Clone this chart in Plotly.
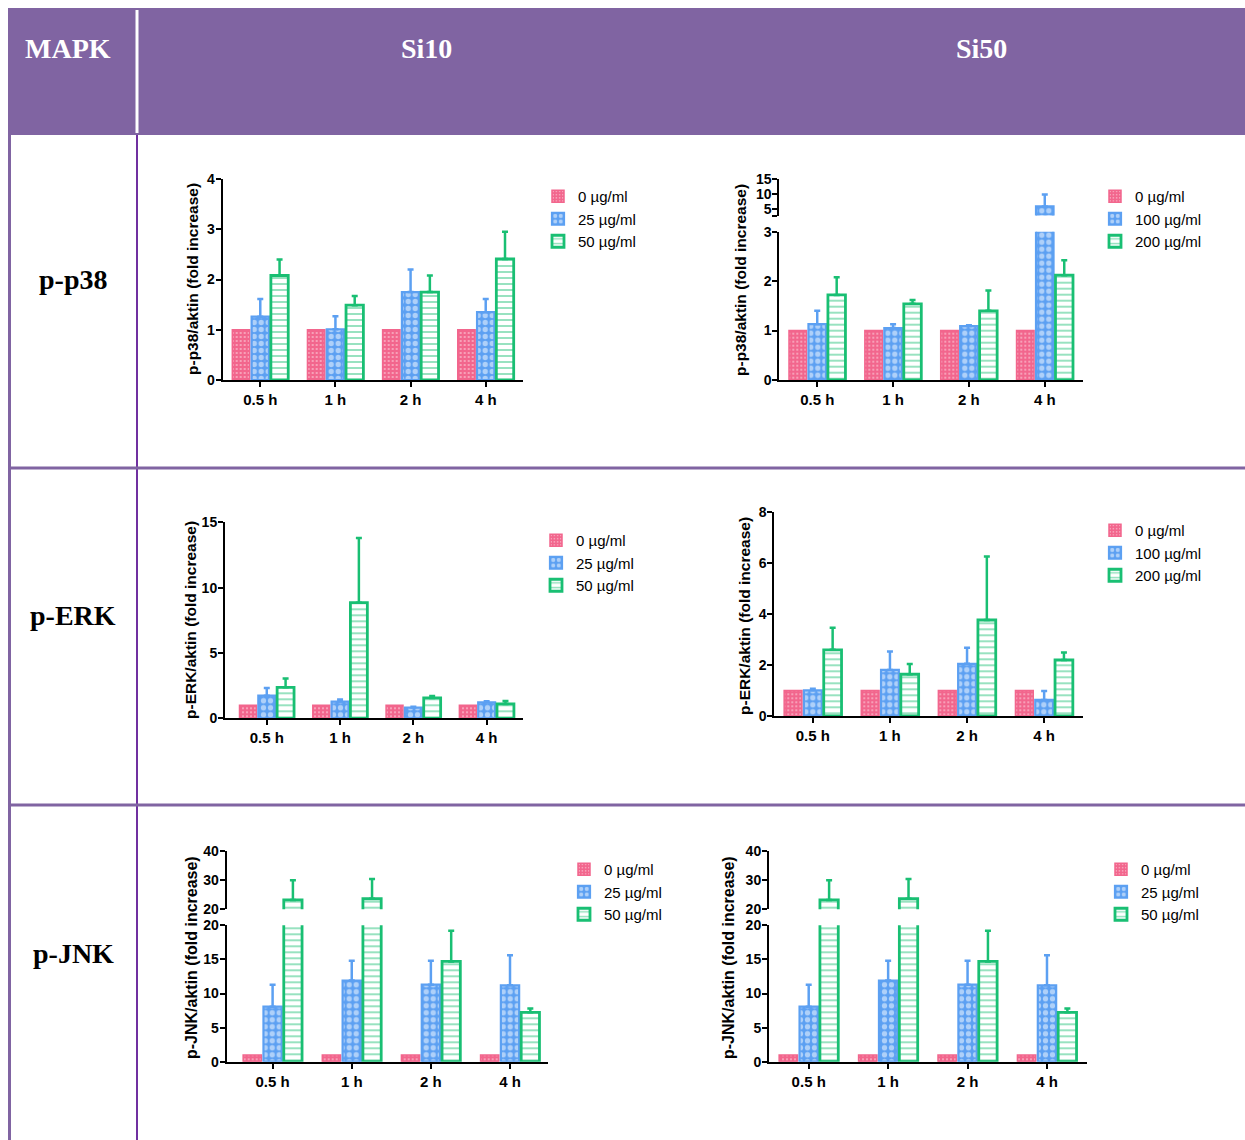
import plotly.graph_objects as go

W, H = 1245, 1140


def px(x):
    return x / W


def py(y):
    return 1 - y / H


# ---------------- data ----------------
TIMES = ["0.5 h", "1 h", "2 h", "4 h"]
DOSE_SI10 = ["0 µg/ml", "25 µg/ml", "50 µg/ml"]
DOSE_SI50 = ["0 µg/ml", "100 µg/ml", "200 µg/ml"]
ROW_LABELS = ["p-p38", "p-ERK", "p-JNK"]
COL_LABELS = ["MAPK", "Si10", "Si50"]

# p-p38 / Si10
P38_SI10_CTRL = [1, 1, 1, 1]
P38_SI10_LOW = [1.26, 1.01, 1.75, 1.35]
P38_SI10_LOW_ERR = [0.35, 0.26, 0.45, 0.26]
P38_SI10_HIGH = [2.08, 1.49, 1.75, 2.41]
P38_SI10_HIGH_ERR = [0.32, 0.18, 0.33, 0.54]

# p-p38 / Si50
P38_SI50_CTRL = [1, 1, 1, 1]
P38_SI50_LOW = [1.13, 1.05, 1.09, 6.0]
P38_SI50_LOW_ERR = [0.27, 0.08, 0.02, 4.0]
P38_SI50_HIGH = [1.72, 1.54, 1.40, 2.12]
P38_SI50_HIGH_ERR = [0.36, 0.08, 0.41, 0.30]

# p-ERK / Si10
ERK_SI10_CTRL = [1, 1, 1, 1]
ERK_SI10_LOW = [1.73, 1.28, 0.82, 1.22]
ERK_SI10_LOW_ERR = [0.59, 0.15, 0.07, 0.08]
ERK_SI10_HIGH = [2.37, 8.85, 1.56, 1.10]
ERK_SI10_HIGH_ERR = [0.67, 4.95, 0.15, 0.23]

# p-ERK / Si50
ERK_SI50_CTRL = [1, 1, 1, 1]
ERK_SI50_LOW = [1.01, 1.81, 2.05, 0.63]
ERK_SI50_LOW_ERR = [0.06, 0.72, 0.63, 0.35]
ERK_SI50_HIGH = [2.60, 1.64, 3.77, 2.20]
ERK_SI50_HIGH_ERR = [0.87, 0.40, 2.49, 0.29]

# p-JNK / Si10
JNK_SI10_CTRL = [1, 1, 1, 1]
JNK_SI10_LOW = [8.07, 11.9, 11.3, 11.2]
JNK_SI10_LOW_ERR = [3.2, 2.9, 3.5, 4.4]
JNK_SI10_HIGH = [23.2, 23.6, 14.7, 7.24]
JNK_SI10_HIGH_ERR = [6.7, 6.7, 4.5, 0.56]

# p-JNK / Si50
JNK_SI50_CTRL = [1, 1, 1, 1]
JNK_SI50_LOW = [8.07, 11.9, 11.3, 11.2]
JNK_SI50_LOW_ERR = [3.2, 2.9, 3.5, 4.4]
JNK_SI50_HIGH = [23.2, 23.6, 14.7, 7.24]
JNK_SI50_HIGH_ERR = [6.7, 6.7, 4.5, 0.56]

# ---------------- style ----------------
PINK = "#F2668D"
BLUE = "#5CA0F2"
GREEN = "#19BF73"
PURPLE = "#8064A2"
PURPLE_DARK = "#7030A0"
SANS = "Liberation Sans, Arial, sans-serif"
SERIF = "Liberation Serif, Times New Roman, serif"

STYLES = [
    dict(color=PINK, pattern=dict(shape=".", fgcolor="white", bgcolor=PINK, size=4, solidity=0.2),
         lw=1.5),
    dict(color=BLUE, pattern=dict(shape=".", fgcolor="white", bgcolor=BLUE, size=7, solidity=0.45),
         lw=2.2),
    dict(color=GREEN, pattern=dict(shape="-", fgcolor=GREEN, bgcolor="white", size=6, solidity=0.3),
         lw=2.8),
]

panels = [
    dict(series=[P38_SI10_CTRL, P38_SI10_LOW, P38_SI10_HIGH],
         errs=[None, P38_SI10_LOW_ERR, P38_SI10_HIGH_ERR], doses=DOSE_SI10,
         title="p-p38/aktin (fold increase)", x0=222.7, x1=523.3, xr=[-0.5, 3.5],
         low=(179, 380), low_range=[0, 4], low_dtick=1, up=None,
         tpos=(192, 279), tsize=15.5, leg=(538, 180)),
    dict(series=[P38_SI50_CTRL, P38_SI50_LOW, P38_SI50_HIGH],
         errs=[None, P38_SI50_LOW_ERR, P38_SI50_HIGH_ERR], doses=DOSE_SI50,
         title="p-p38/aktin (fold increase)", x0=779.3, x1=1082.7, xr=[-0.5, 3.5],
         low=(231.7, 380), low_range=[0, 3], low_dtick=1,
         up=dict(pos=(179.3, 215.5), rng=[3, 15], vals=[3, 5, 10, 15], text=["", "5", "10", "15"]),
         tpos=(740, 280), tsize=15.5, leg=(1095, 180)),
    dict(series=[ERK_SI10_CTRL, ERK_SI10_LOW, ERK_SI10_HIGH],
         errs=[None, ERK_SI10_LOW_ERR, ERK_SI10_HIGH_ERR], doses=DOSE_SI10,
         title="p-ERK/aktin (fold increase)", x0=225, x1=523.3, xr=[-0.57, 3.5],
         low=(522.3, 718.3), low_range=[0, 15], low_dtick=5, up=None,
         tpos=(190, 620), tsize=15.5, leg=(536, 524)),
    dict(series=[ERK_SI50_CTRL, ERK_SI50_LOW, ERK_SI50_HIGH],
         errs=[None, ERK_SI50_LOW_ERR, ERK_SI50_HIGH_ERR], doses=DOSE_SI50,
         title="p-ERK/aktin (fold increase)", x0=774.3, x1=1082.7, xr=[-0.5, 3.5],
         low=(512.3, 716), low_range=[0, 8], low_dtick=2, up=None,
         tpos=(744, 616), tsize=15.5, leg=(1095, 514)),
    dict(series=[JNK_SI10_CTRL, JNK_SI10_LOW, JNK_SI10_HIGH],
         errs=[None, JNK_SI10_LOW_ERR, JNK_SI10_HIGH_ERR], doses=DOSE_SI10,
         title="p-JNK/aktin (fold increase)", x0=226.7, x1=548, xr=[-0.58, 3.48],
         low=(925.3, 1061.7), low_range=[0, 20], low_dtick=5,
         up=dict(pos=(850.7, 909.3), rng=[20, 40], vals=[20, 30, 40], text=["20", "30", "40"]),
         tpos=(192, 958), tsize=16, leg=(564, 853)),
    dict(series=[JNK_SI50_CTRL, JNK_SI50_LOW, JNK_SI50_HIGH],
         errs=[None, JNK_SI50_LOW_ERR, JNK_SI50_HIGH_ERR], doses=DOSE_SI10,
         title="p-JNK/aktin (fold increase)", x0=769, x1=1086.7, xr=[-0.5, 3.5],
         low=(925.3, 1061.7), low_range=[0, 20], low_dtick=5,
         up=dict(pos=(850.7, 909.3), rng=[20, 40], vals=[20, 30, 40], text=["20", "30", "40"]),
         tpos=(729, 958), tsize=16, leg=(1101, 853)),
]

fig = go.Figure()
layout = dict(
    width=W, height=H, autosize=False,
    margin=dict(l=0, r=0, t=0, b=0, pad=0, autoexpand=False),
    paper_bgcolor="white", plot_bgcolor="rgba(0,0,0,0)",
    barmode="group", bargap=0.23, bargroupgap=0.1,
    font=dict(family=SANS, color="black"),
)

axis_common = dict(showline=True, linecolor="black", linewidth=2, ticks="outside",
                   ticklen=5, tickwidth=2, tickcolor="black", showgrid=False,
                   zeroline=False, fixedrange=True, automargin=False,
                   tickfont=dict(family=SANS, size=14, weight="bold", color="black"))

annotations = []
extra_y = 7
for i, p in enumerate(panels, start=1):
    xa, ya = f"x{i}", f"y{i}"
    legname = "legend" if i == 1 else f"legend{i}"
    layout[f"xaxis{i}"] = dict(axis_common, domain=[px(p["x0"]), px(p["x1"])], anchor=ya,
                               type="category", range=p["xr"],
                               tickfont=dict(family=SANS, size=15, weight="bold", color="black"))
    layout[f"yaxis{i}"] = dict(axis_common, domain=[py(p["low"][1]), py(p["low"][0])], anchor=xa,
                               range=p["low_range"], dtick=p["low_dtick"], tick0=0,
                               ticklabelstandoff=-2)
    y_axes = [ya]
    if p["up"] is not None:
        u = p["up"]
        yu = f"y{extra_y}"
        layout[f"yaxis{extra_y}"] = dict(axis_common, domain=[py(u["pos"][1]), py(u["pos"][0])],
                                         anchor=xa, range=u["rng"], tickmode="array",
                                         tickvals=u["vals"], ticktext=u["text"],
                                         ticklabelstandoff=-2)
        y_axes.append(yu)
        extra_y += 1
    for k, yax in enumerate(y_axes):
        for j in range(3):
            st = STYLES[j]
            err = p["errs"][j]
            eb = dict(visible=False) if err is None else dict(
                type="data", array=err, arrayminus=[0] * len(err), symmetric=False,
                color=st["color"], thickness=2.5, width=3)
            fig.add_trace(go.Bar(
                x=TIMES, y=p["series"][j], xaxis=xa, yaxis=yax,
                name=p["doses"][j], legend=legname, showlegend=(k == 0),
                marker=dict(color=st["color"], pattern=st["pattern"],
                            line=dict(color=st["color"], width=st["lw"])),
                error_y=eb, hoverinfo="skip"))
    layout[legname] = dict(x=px(p["leg"][0]), y=py(p["leg"][1]), xanchor="left", yanchor="top",
                           bgcolor="rgba(0,0,0,0)", borderwidth=0, tracegroupgap=0,
                           font=dict(family=SANS, size=15, color="black"),
                           itemclick=False, itemdoubleclick=False)
    annotations.append(dict(text=p["title"], x=px(p["tpos"][0]), y=py(p["tpos"][1]),
                            xref="paper", yref="paper", showarrow=False, textangle=-90,
                            xanchor="center", yanchor="middle",
                            font=dict(family=SANS, size=p["tsize"], weight="bold", color="black")))

# table header / row labels
header_pos = [(68, 48), (426, 48), (981, 48)]
for lab, (x, y) in zip(COL_LABELS, header_pos):
    annotations.append(dict(text=lab, x=px(x), y=py(y), xref="paper", yref="paper",
                            showarrow=False, xanchor="center", yanchor="middle",
                            font=dict(family=SERIF, size=28, weight="bold", color="white")))
row_pos = [(73, 279), (73, 615), (73, 953)]
for lab, (x, y) in zip(ROW_LABELS, row_pos):
    annotations.append(dict(text=lab, x=px(x), y=py(y), xref="paper", yref="paper",
                            showarrow=False, xanchor="center", yanchor="middle",
                            font=dict(family=SERIF, size=28, weight="bold", color="black")))

shapes = [
    dict(type="rect", xref="paper", yref="paper", x0=px(8), x1=px(1245), y0=py(8), y1=py(135),
         fillcolor=PURPLE, line=dict(width=0), layer="below"),
    dict(type="line", xref="paper", yref="paper", x0=px(137), x1=px(137), y0=py(10), y1=py(133),
         line=dict(color="white", width=3)),
    dict(type="line", xref="paper", yref="paper", x0=px(9.5), x1=px(9.5), y0=py(135), y1=py(1140),
         line=dict(color=PURPLE, width=3)),
    dict(type="line", xref="paper", yref="paper", x0=px(137), x1=px(137), y0=py(135), y1=py(1140),
         line=dict(color=PURPLE_DARK, width=2)),
    dict(type="line", xref="paper", yref="paper", x0=px(8), x1=px(1245), y0=py(468), y1=py(468),
         line=dict(color=PURPLE, width=3)),
    dict(type="line", xref="paper", yref="paper", x0=px(8), x1=px(1245), y0=py(805), y1=py(805),
         line=dict(color=PURPLE, width=3)),
]

layout["annotations"] = annotations
layout["shapes"] = shapes
fig.update_layout(**layout)
fig.write_html(
    "out.html",
    config={"displayModeBar": False},
    post_script="document.body.style.margin='0';document.body.style.padding='0';"
                "document.body.style.overflow='hidden';",
)
